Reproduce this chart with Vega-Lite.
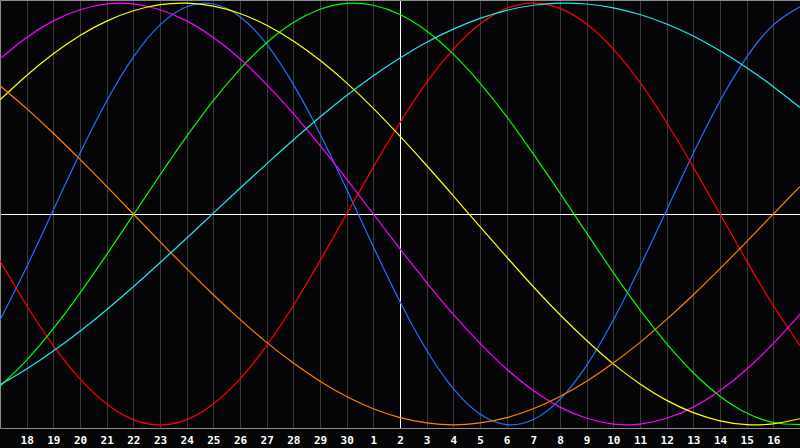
{
  "$schema": "https://vega.github.io/schema/vega-lite/v6.json",
  "width": 800,
  "height": 428,
  "padding": {"left": 0, "top": 0, "right": 0, "bottom": 20},
  "autosize": {"type": "none"},
  "background": "#050508",
  "config": {"view": {"stroke": null}},
  "data": {"values": [
    {"d": 0, "physical": -0.503, "emotional": -0.2225, "intellectual": -0.817, "intuitive": 0.736, "aesthetic": 0.541, "awareness": 0.609, "spiritual": -0.810},
    {"d": 1, "physical": -0.251, "emotional": -0.434, "intellectual": -0.693, "intuitive": 0.837, "aesthetic": 0.657, "awareness": 0.5, "spiritual": -0.735},
    {"d": 2, "physical": 0.019, "emotional": -0.624, "intellectual": -0.544, "intuitive": 0.916, "aesthetic": 0.760, "awareness": 0.383, "spiritual": -0.650},
    {"d": 3, "physical": 0.288, "emotional": -0.782, "intellectual": -0.375, "intuitive": 0.969, "aesthetic": 0.847, "awareness": 0.259, "spiritual": -0.556},
    {"d": 4, "physical": 0.536, "emotional": -0.901, "intellectual": -0.193, "intuitive": 0.997, "aesthetic": 0.915, "awareness": 0.131, "spiritual": -0.454},
    {"d": 5, "physical": 0.744, "emotional": -0.975, "intellectual": -0.004, "intuitive": 0.997, "aesthetic": 0.964, "awareness": 0, "spiritual": -0.345},
    {"d": 6, "physical": 0.897, "emotional": -1, "intellectual": 0.185, "intuitive": 0.969, "aesthetic": 0.993, "awareness": -0.131, "spiritual": -0.231},
    {"d": 7, "physical": 0.983, "emotional": -0.975, "intellectual": 0.368, "intuitive": 0.916, "aesthetic": 1.0, "awareness": -0.259, "spiritual": -0.115},
    {"d": 8, "physical": 0.996, "emotional": -0.901, "intellectual": 0.538, "intuitive": 0.837, "aesthetic": 0.986, "awareness": -0.383, "spiritual": 0.004},
    {"d": 9, "physical": 0.936, "emotional": -0.782, "intellectual": 0.687, "intuitive": 0.736, "aesthetic": 0.951, "awareness": -0.5, "spiritual": 0.122},
    {"d": 10, "physical": 0.806, "emotional": -0.624, "intellectual": 0.812, "intuitive": 0.614, "aesthetic": 0.895, "awareness": -0.609, "spiritual": 0.238},
    {"d": 11, "physical": 0.615, "emotional": -0.434, "intellectual": 0.908, "intuitive": 0.476, "aesthetic": 0.821, "awareness": -0.707, "spiritual": 0.351},
    {"d": 12, "physical": 0.381, "emotional": -0.2225, "intellectual": 0.971, "intuitive": 0.325, "aesthetic": 0.729, "awareness": -0.793, "spiritual": 0.460},
    {"d": 13, "physical": 0.117, "emotional": 0, "intellectual": 0.999, "intuitive": 0.165, "aesthetic": 0.622, "awareness": -0.866, "spiritual": 0.562},
    {"d": 14, "physical": -0.155, "emotional": 0.2225, "intellectual": 0.990, "intuitive": 0, "aesthetic": 0.501, "awareness": -0.924, "spiritual": 0.656},
    {"d": 15, "physical": -0.416, "emotional": 0.434, "intellectual": 0.946, "intuitive": -0.165, "aesthetic": 0.369, "awareness": -0.966, "spiritual": 0.740},
    {"d": 16, "physical": -0.646, "emotional": 0.624, "intellectual": 0.868, "intuitive": -0.325, "aesthetic": 0.230, "awareness": -0.991, "spiritual": 0.815},
    {"d": 17, "physical": -0.828, "emotional": 0.782, "intellectual": 0.758, "intuitive": -0.476, "aesthetic": 0.086, "awareness": -1, "spiritual": 0.877},
    {"d": 18, "physical": -0.949, "emotional": 0.901, "intellectual": 0.621, "intuitive": -0.614, "aesthetic": -0.060, "awareness": -0.991, "spiritual": 0.928},
    {"d": 19, "physical": -0.999, "emotional": 0.975, "intellectual": 0.462, "intuitive": -0.736, "aesthetic": -0.204, "awareness": -0.966, "spiritual": 0.966},
    {"d": 20, "physical": -0.975, "emotional": 1, "intellectual": 0.285, "intuitive": -0.837, "aesthetic": -0.345, "awareness": -0.924, "spiritual": 0.990},
    {"d": 21, "physical": -0.879, "emotional": 0.975, "intellectual": 0.099, "intuitive": -0.916, "aesthetic": -0.478, "awareness": -0.866, "spiritual": 1.0},
    {"d": 22, "physical": -0.718, "emotional": 0.901, "intellectual": -0.091, "intuitive": -0.969, "aesthetic": -0.600, "awareness": -0.793, "spiritual": 0.996},
    {"d": 23, "physical": -0.503, "emotional": 0.782, "intellectual": -0.278, "intuitive": -0.997, "aesthetic": -0.711, "awareness": -0.707, "spiritual": 0.978},
    {"d": 24, "physical": -0.251, "emotional": 0.624, "intellectual": -0.455, "intuitive": -0.997, "aesthetic": -0.806, "awareness": -0.609, "spiritual": 0.946},
    {"d": 25, "physical": 0.019, "emotional": 0.434, "intellectual": -0.615, "intuitive": -0.969, "aesthetic": -0.884, "awareness": -0.5, "spiritual": 0.901},
    {"d": 26, "physical": 0.288, "emotional": 0.2225, "intellectual": -0.753, "intuitive": -0.916, "aesthetic": -0.942, "awareness": -0.383, "spiritual": 0.844},
    {"d": 27, "physical": 0.536, "emotional": 0, "intellectual": -0.864, "intuitive": -0.837, "aesthetic": -0.981, "awareness": -0.259, "spiritual": 0.774},
    {"d": 28, "physical": 0.744, "emotional": -0.2225, "intellectual": -0.944, "intuitive": -0.736, "aesthetic": -0.999, "awareness": -0.131, "spiritual": 0.694},
    {"d": 29, "physical": 0.897, "emotional": -0.434, "intellectual": -0.989, "intuitive": -0.614, "aesthetic": -0.995, "awareness": 0, "spiritual": 0.604},
    {"d": 30, "physical": 0.983, "emotional": -0.624, "intellectual": -0.999, "intuitive": -0.476, "aesthetic": -0.971, "awareness": 0.131, "spiritual": 0.505}
  ]},
  "transform": [{"fold": ["physical", "emotional", "intellectual", "intuitive", "aesthetic", "awareness", "spiritual"], "as": ["key", "v"]}],
  "mark": {"type": "line", "strokeWidth": 1.2, "interpolate": "natural", "clip": true},
  "encoding": {
    "x": {
      "field": "d", "type": "quantitative",
      "scale": {"domain": [0, 30], "nice": false, "zero": false},
      "axis": {
        "values": [1,2,3,4,5,6,7,8,9,10,11,12,13,14,15,16,17,18,19,20,21,22,23,24,25,26,27,28,29],
        "labelExpr": "datum.value <= 13 ? '' + (datum.value + 17) : '' + (datum.value - 13)",
        "grid": true,
        "gridColor": {"condition": {"test": "datum.value === 15", "value": "#ffffff"}, "value": "#3a3a3a"},
        "gridWidth": 1,
        "ticks": false, "domain": true, "domainColor": "#8c8c8c",
        "labelColor": "#ffffff", "labelFont": "DejaVu Sans Mono", "labelFontWeight": "bold",
        "labelFontSize": 11, "labelPadding": 6, "labelDx": -1,
        "labelOverlap": false, "labelFlush": false, "labelBound": false,
        "title": null
      }
    },
    "y": {
      "field": "v", "type": "quantitative",
      "scale": {"domain": [-1.015, 1.015], "nice": false, "zero": false},
      "axis": {
        "values": [0, 1.015],
        "grid": true,
        "gridColor": {"condition": {"test": "datum.value === 0", "value": "#ffffff"}, "value": "#8c8c8c"},
        "gridWidth": 1,
        "domain": true, "domainColor": "#8c8c8c", "labels": false, "ticks": false, "title": null
      }
    },
    "color": {
      "field": "key", "type": "nominal",
      "scale": {
        "domain": ["physical", "emotional", "intellectual", "intuitive", "aesthetic", "awareness", "spiritual"],
        "range": ["#2070ff", "#ff0000", "#00ff00", "#ff00ff", "#ffff00", "#ff8000", "#20e8e8"]
      },
      "legend": null
    }
  }
}
